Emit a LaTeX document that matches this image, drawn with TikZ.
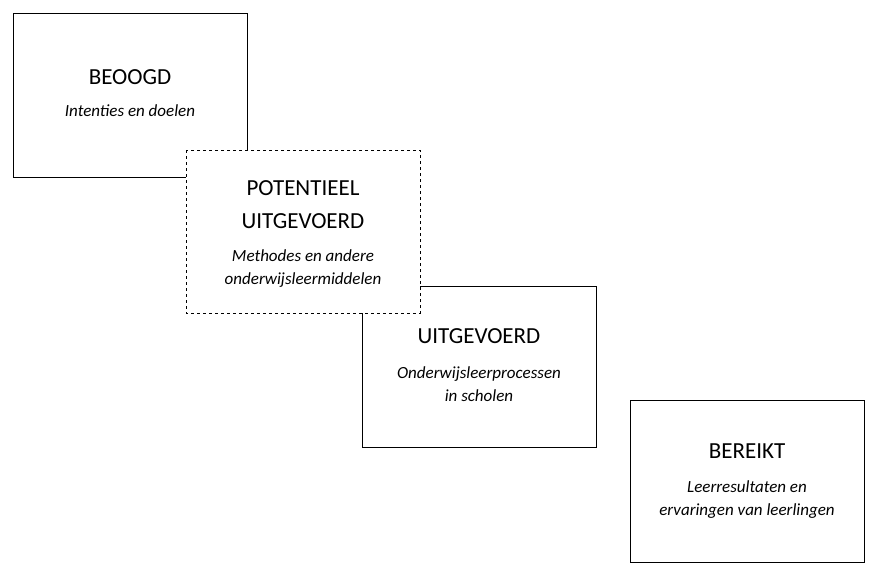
\documentclass[tikz,border=0pt]{standalone}
\usepackage{fontspec}
\setmainfont{Carlito}
\begin{document}
\begin{tikzpicture}[x=1pt,y=-1pt,
 box/.style={draw,fill=white,line width=1pt},
 ttl/.style={font=\fontsize{23}{26}\selectfont,align=center,inner sep=0},
 sub/.style={font=\fontsize{17}{23}\selectfont\itshape,align=center,inner sep=0}]
\useasboundingbox (0,0) rectangle (880,578);
\draw[box] (13,14) rectangle (247,177);
\node[ttl] (t1) at (130,77) {BEOOGD};
\node[sub] (s1) at (130,111) {Intenties en doelen};
\draw[box] (362,286) rectangle (596,447);
\node[ttl] (t3) at (479,336) {UITGEVOERD};
\node[sub] (s3) at (479,384) {Onderwijsleerprocessen\\in scholen};
\draw[box,dashed] (186,150) rectangle (420,313);
\node[ttl,text width=234,font=\fontsize{23}{33}\selectfont] (t2) at (303,205) {POTENTIEEL\\UITGEVOERD};
\node[sub] (s2) at (303,269) {Methodes en andere\\onderwijsleermiddelen};
\draw[box] (630,400) rectangle (864,562);
\node[ttl] (t4) at (747,451) {BEREIKT};
\node[sub] (s4) at (747,500) {Leerresultaten en\\ervaringen van leerlingen};
\end{tikzpicture}
\end{document}
